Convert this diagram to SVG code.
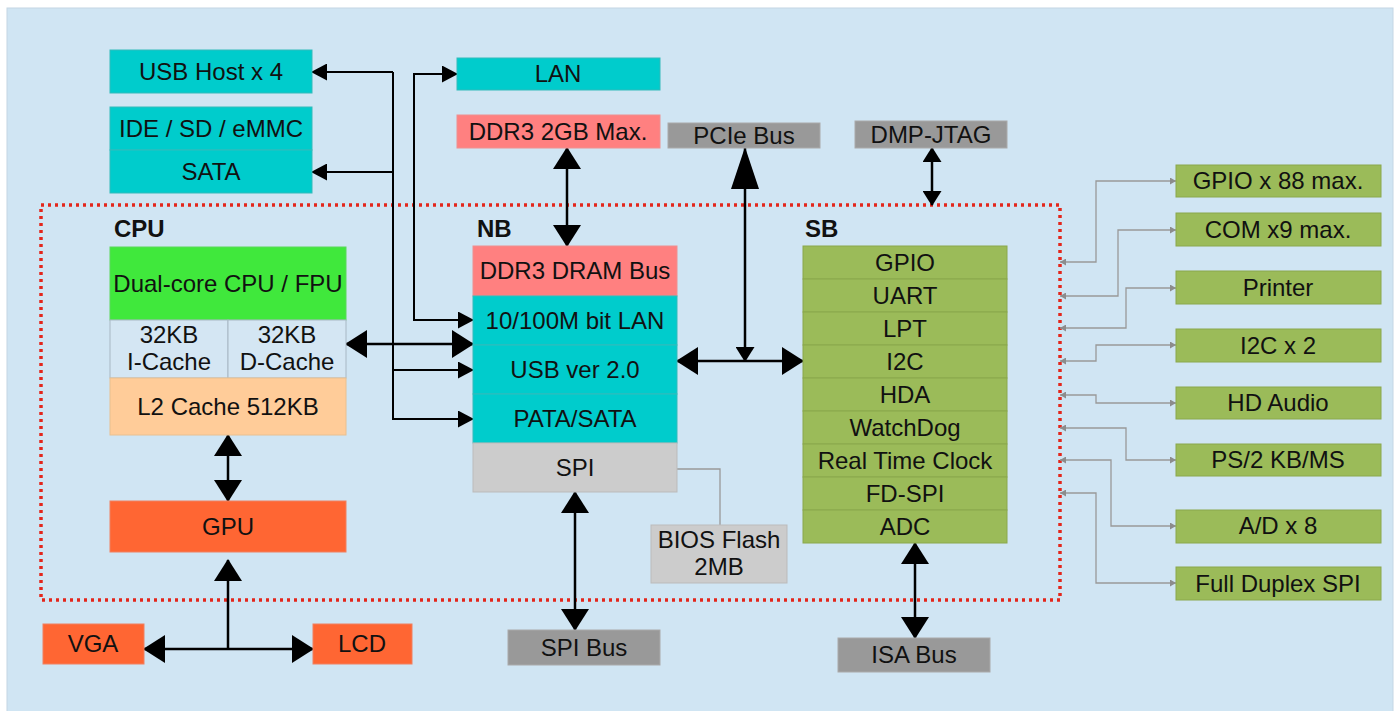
<svg xmlns="http://www.w3.org/2000/svg" width="1400" height="711" viewBox="0 0 1400 711">
<style>
text{font-family:"Liberation Sans",Arial,sans-serif;font-size:24px;fill:#111;text-anchor:middle}
.lbl{font-weight:bold;font-size:24px;text-anchor:start}
.teal{fill:#00cccc;stroke:#33bbbb;stroke-width:1}
.salmon{fill:#ff8080;stroke:#ee9090;stroke-width:1}
.dgray{fill:#999999;stroke:#aaaaaa;stroke-width:1}
.lgray{fill:#cccccc;stroke:#bbbbbb;stroke-width:1}
.lime{fill:#40e83c;stroke:#5bd85b;stroke-width:1}
.peach{fill:#ffcc99;stroke:#e8c090;stroke-width:1}
.orange{fill:#ff6633;stroke:#f08060;stroke-width:1}
.olive{fill:#9bbb59;stroke:#8aa84c;stroke-width:1}
.cache{fill:#d4e6f3;stroke:#a8b8c4;stroke-width:1}
.blk{fill:none;stroke:#000;stroke-width:2.5}
.thin{fill:none;stroke:#000;stroke-width:2}
.gry{fill:none;stroke:#999;stroke-width:1.3}
</style>
<defs>
<marker id="big" viewBox="0 0 22 28" refX="21" refY="14" markerWidth="22" markerHeight="28" markerUnits="userSpaceOnUse" orient="auto-start-reverse"><path d="M0,0 L22,14 L0,28 z" fill="#000"/></marker>
<marker id="tall" viewBox="0 0 42 28" refX="41" refY="14" markerWidth="42" markerHeight="28" markerUnits="userSpaceOnUse" orient="auto-start-reverse"><path d="M0,0 L42,14 L0,28 z" fill="#000"/></marker>
<marker id="med" viewBox="0 0 15 19" refX="14" refY="9.5" markerWidth="15" markerHeight="19" markerUnits="userSpaceOnUse" orient="auto-start-reverse"><path d="M0,0 L15,9.5 L0,19 z" fill="#000"/></marker>
<marker id="sm" viewBox="0 0 16 17" refX="15" refY="8.5" markerWidth="16" markerHeight="17" markerUnits="userSpaceOnUse" orient="auto-start-reverse"><path d="M0,0 L16,8.5 L0,17 z" fill="#000"/></marker>
<marker id="g" viewBox="0 0 6 7" refX="6" refY="3.5" markerWidth="6" markerHeight="7" markerUnits="userSpaceOnUse" orient="auto-start-reverse"><path d="M0,0 L6,3.5 L0,7 z" fill="#8c8c8c"/></marker>
</defs>
<rect x="0" y="0" width="1400" height="711" fill="#ffffff"/>
<rect x="7" y="8" width="1386" height="710" fill="#d0e5f3" stroke="#c4d6e4" stroke-width="1"/>
<rect x="41" y="205" width="1019" height="395" fill="none" stroke="#e3261b" stroke-width="3.5" stroke-dasharray="3 4"/>
<text class="lbl" x="114" y="237">CPU</text>
<text class="lbl" x="477" y="237">NB</text>
<text class="lbl" x="805" y="237">SB</text>

<g id="connectors">
<path class="thin" d="M393,72 H312" marker-end="url(#sm)"/>
<path class="thin" d="M393,72 V419 H473" marker-end="url(#sm)"/>
<path class="thin" d="M393,172 H312" marker-end="url(#sm)"/>
<path class="thin" d="M393,370 H473" marker-end="url(#sm)"/>
<path class="thin" d="M457,74 H414 V320 H473" marker-start="url(#sm)" marker-end="url(#sm)"/>
<path class="blk" d="M346,344 H473" marker-start="url(#big)" marker-end="url(#big)"/>
<path class="blk" d="M567,148 V246" marker-start="url(#big)" marker-end="url(#big)"/>
<path class="blk" d="M745,148 V361" marker-start="url(#tall)" marker-end="url(#med)"/>
<path class="blk" d="M677,361 H803" marker-start="url(#big)" marker-end="url(#big)"/>
<path class="blk" d="M932,148 V205" marker-start="url(#med)" marker-end="url(#med)"/>
<path class="blk" d="M228,435 V501" marker-start="url(#big)" marker-end="url(#big)"/>
<path class="blk" d="M228,649 V560" marker-end="url(#big)"/>
<path class="blk" d="M144,649 H313" marker-start="url(#big)" marker-end="url(#big)"/>
<path class="blk" d="M575,492 V630" marker-start="url(#big)" marker-end="url(#big)"/>
<path class="blk" d="M915,543 V638" marker-start="url(#big)" marker-end="url(#big)"/>
<path class="gry" d="M677,469 H720 V525"/>
<path class="gry" d="M1060,262 H1096 V181 H1176" marker-start="url(#g)" marker-end="url(#g)"/>
<path class="gry" d="M1060,296 H1118 V230 H1176" marker-start="url(#g)" marker-end="url(#g)"/>
<path class="gry" d="M1060,328 H1126 V288 H1176" marker-start="url(#g)" marker-end="url(#g)"/>
<path class="gry" d="M1060,361 H1096 V345 H1176" marker-start="url(#g)" marker-end="url(#g)"/>
<path class="gry" d="M1060,395 H1096 V403 H1176" marker-start="url(#g)" marker-end="url(#g)"/>
<path class="gry" d="M1060,428 H1126 V460 H1176" marker-start="url(#g)" marker-end="url(#g)"/>
<path class="gry" d="M1060,460 H1111 V526 H1176" marker-start="url(#g)" marker-end="url(#g)"/>
<path class="gry" d="M1060,493 H1096 V583 H1176" marker-start="url(#g)" marker-end="url(#g)"/>
</g>

<g id="usb-host"><rect class="teal" x="110" y="50" width="202" height="43"/><text x="211" y="80">USB Host x 4</text></g>
<g id="ide-sd"><rect class="teal" x="110" y="107" width="202" height="43"/><text x="211" y="137">IDE / SD / eMMC</text></g>
<g id="sata"><rect class="teal" x="110" y="150" width="202" height="43"/><text x="211" y="180">SATA</text></g>
<g id="lan"><rect class="teal" x="457" y="58" width="203" height="32"/><text x="558" y="82">LAN</text></g>
<g id="ddr3-max"><rect class="salmon" x="457" y="115" width="203" height="33"/><text x="558" y="140">DDR3 2GB Max.</text></g>
<g id="pcie"><rect class="dgray" x="668" y="123" width="152" height="25"/><text x="744" y="144">PCIe Bus</text></g>
<g id="jtag"><rect class="dgray" x="855" y="121" width="152" height="27"/><text x="931" y="143">DMP-JTAG</text></g>

<g id="cpu">
<rect class="lime" x="110" y="247" width="236" height="73"/><text x="228" y="292">Dual-core CPU / FPU</text>
<rect class="cache" x="110" y="320" width="118" height="58"/><text x="169" y="343">32KB</text><text x="169" y="370">I-Cache</text>
<rect class="cache" x="228" y="320" width="118" height="58"/><text x="287" y="343">32KB</text><text x="287" y="370">D-Cache</text>
<rect class="peach" x="110" y="378" width="236" height="57"/><text x="228" y="415">L2 Cache 512KB</text>
</g>
<g id="gpu"><rect class="orange" x="110" y="501" width="236" height="51"/><text x="228" y="535">GPU</text></g>
<g id="vga"><rect class="orange" x="43" y="624" width="101" height="40"/><text x="93" y="652">VGA</text></g>
<g id="lcd"><rect class="orange" x="313" y="624" width="99" height="40"/><text x="362" y="652">LCD</text></g>

<g id="nb">
<rect class="salmon" x="473" y="246" width="204" height="50"/><text x="575" y="279">DDR3 DRAM Bus</text>
<rect class="teal" x="473" y="296" width="204" height="49"/><text x="575" y="329">10/100M bit LAN</text>
<rect class="teal" x="473" y="345" width="204" height="49"/><text x="575" y="378">USB ver 2.0</text>
<rect class="teal" x="473" y="394" width="204" height="49"/><text x="575" y="427">PATA/SATA</text>
<rect class="lgray" x="473" y="443" width="204" height="49"/><text x="575" y="476">SPI</text>
</g>
<g id="bios"><rect class="lgray" x="651" y="525" width="136" height="58"/><text x="719" y="548">BIOS Flash</text><text x="719" y="575">2MB</text></g>
<g id="spi-bus"><rect class="dgray" x="508" y="630" width="152" height="35"/><text x="584" y="656">SPI Bus</text></g>

<g id="sb">
<rect class="olive" x="803" y="246" width="204" height="33"/><text x="905" y="271">GPIO</text>
<rect class="olive" x="803" y="279" width="204" height="33"/><text x="905" y="304">UART</text>
<rect class="olive" x="803" y="312" width="204" height="33"/><text x="905" y="337">LPT</text>
<rect class="olive" x="803" y="345" width="204" height="33"/><text x="905" y="370">I2C</text>
<rect class="olive" x="803" y="378" width="204" height="33"/><text x="905" y="403">HDA</text>
<rect class="olive" x="803" y="411" width="204" height="33"/><text x="905" y="436">WatchDog</text>
<rect class="olive" x="803" y="444" width="204" height="33"/><text x="905" y="469">Real Time Clock</text>
<rect class="olive" x="803" y="477" width="204" height="33"/><text x="905" y="502">FD-SPI</text>
<rect class="olive" x="803" y="510" width="204" height="33"/><text x="905" y="535">ADC</text>
</g>
<g id="isa-bus"><rect class="dgray" x="838" y="638" width="152" height="34"/><text x="914" y="663">ISA Bus</text></g>

<g id="gpio88"><rect class="olive" x="1176" y="165" width="205" height="32"/><text x="1278" y="189">GPIO x 88 max.</text></g>
<g id="com9"><rect class="olive" x="1176" y="213" width="205" height="33"/><text x="1278" y="238">COM x9 max.</text></g>
<g id="printer"><rect class="olive" x="1176" y="271" width="205" height="33"/><text x="1278" y="296">Printer</text></g>
<g id="i2c2"><rect class="olive" x="1176" y="329" width="205" height="33"/><text x="1278" y="354">I2C x 2</text></g>
<g id="hdaudio"><rect class="olive" x="1176" y="387" width="205" height="32"/><text x="1278" y="411">HD Audio</text></g>
<g id="ps2"><rect class="olive" x="1176" y="444" width="205" height="32"/><text x="1278" y="468">PS/2 KB/MS</text></g>
<g id="ad8"><rect class="olive" x="1176" y="510" width="205" height="33"/><text x="1278" y="534">A/D x 8</text></g>
<g id="fdspi"><rect class="olive" x="1176" y="567" width="205" height="33"/><text x="1278" y="592">Full Duplex SPI</text></g>
</svg>
